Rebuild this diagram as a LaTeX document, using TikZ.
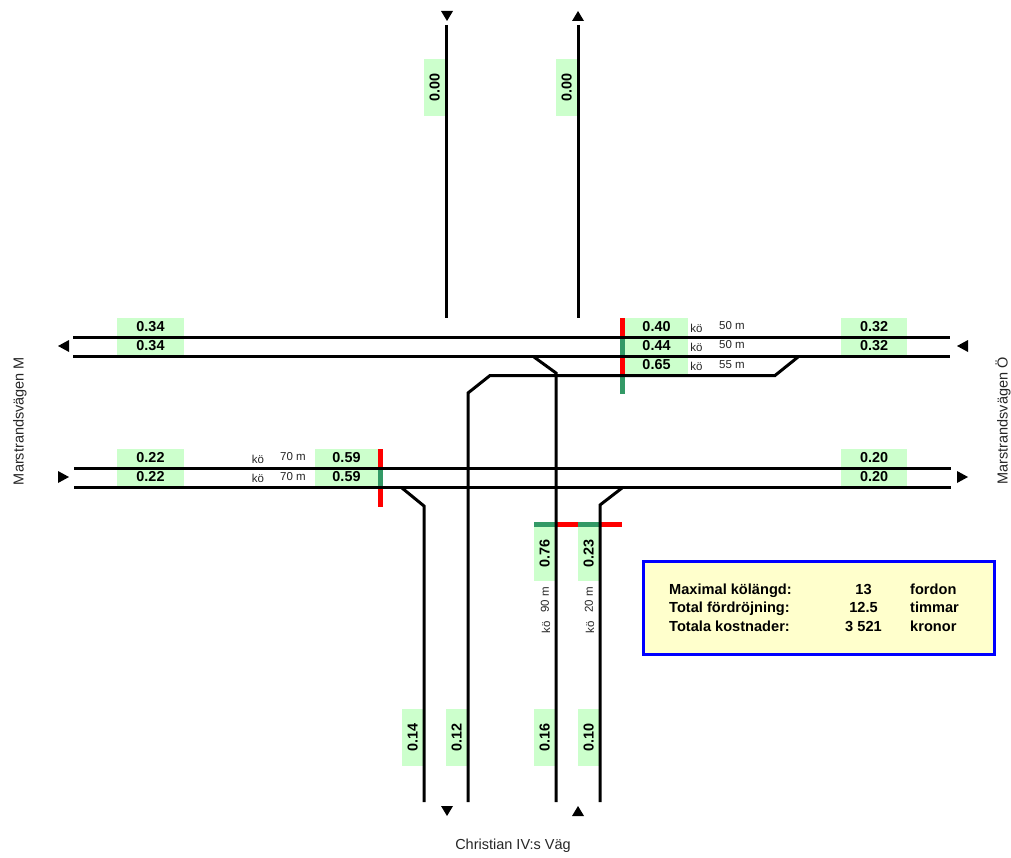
\documentclass[tikz,border=0pt]{standalone}
\usepackage{fontspec}
\setmainfont{Liberation Sans}
\definecolor{lblgreen}{HTML}{CCFFCC}
\definecolor{sigred}{HTML}{FF0000}
\definecolor{siggreen}{HTML}{339966}
\definecolor{boxyellow}{HTML}{FFFFCC}
\definecolor{boxblue}{HTML}{0000FF}
\tikzset{
  road/.style={draw=black,line width=3pt},
  hval/.style={fill=lblgreen,inner sep=0pt,font=\fontsize{14.4}{14}\selectfont\bfseries,text height=7pt,text depth=0pt},
  vval/.style={fill=lblgreen,inner sep=0pt,rotate=90,font=\fontsize{14.4}{14}\selectfont\bfseries,text height=10pt,text depth=0pt},
  small/.style={inner sep=0pt,font=\fontsize{11.5}{12}\selectfont,text=black!85},
  place/.style={inner sep=0pt,font=\fontsize{14.5}{15}\selectfont,text=black!85},
  info/.style={inner sep=0pt,font=\fontsize{14.6}{15}\selectfont\bfseries},
  tri/.style={fill=black,draw=none},
  sigr/.style={fill=sigred,draw=none},
  sigg/.style={fill=siggreen,draw=none},
}
\newcommand{\hlabel}[6]{\node[hval,minimum width=#4pt,minimum height=#5pt] (#1) at (#2,#3) {#6};}
\newcommand{\vlabel}[4]{\node[vval,minimum width=57pt,minimum height=21pt] (#1) at (#2,#3) {#4};}
\begin{document}
\begin{tikzpicture}[x=1pt,y=-1pt]
\useasboundingbox (0,0) rectangle (1011,858);
% horizontal value labels
\hlabel{wa}{150.5}{327.5}{67}{19}{0.34}
\hlabel{wb}{150.5}{347}{67}{18.5}{0.34}
\hlabel{wc}{150.5}{458.5}{67}{19}{0.22}
\hlabel{wd}{150.5}{478}{67}{18.5}{0.22}
\hlabel{ea}{874}{327.5}{66}{19}{0.32}
\hlabel{eb}{874}{347}{66}{18.5}{0.32}
\hlabel{ec}{874}{458.5}{66}{19}{0.20}
\hlabel{ed}{874}{478}{66}{18.5}{0.20}
\hlabel{sa}{656.5}{327.5}{63}{19}{0.40}
\hlabel{sb}{656.5}{347}{63}{18.5}{0.44}
\hlabel{sc}{656.5}{366}{63}{19}{0.65}
\hlabel{ma}{346.5}{458.5}{63}{19}{0.59}
\hlabel{mb}{346.5}{478}{63}{18.5}{0.59}
% vertical value labels
\vlabel{na}{434.5}{87.5}{0.00}
\vlabel{nb}{566.5}{87.5}{0.00}
\vlabel{da}{412.5}{737.5}{0.14}
\vlabel{db}{456.5}{737.5}{0.12}
\vlabel{dc}{544.5}{737.5}{0.16}
\vlabel{dd}{588.5}{737.5}{0.10}
\node[vval,minimum width=54pt,minimum height=21pt] (qa) at (544.5,553.5) {0.76};
\node[vval,minimum width=54pt,minimum height=21pt] (qb) at (588.5,553.5) {0.23};
% signal bars
\fill[sigr] (620,318) rectangle (625,337);
\fill[sigg] (620,337) rectangle (625,356);
\fill[sigr] (620,356) rectangle (625,375);
\fill[sigg] (620,375) rectangle (625,394);
\fill[sigr] (378,449) rectangle (383,468);
\fill[sigg] (378,468) rectangle (383,487);
\fill[sigr] (378,487) rectangle (383,507);
\fill[sigg] (534,522) rectangle (556,527);
\fill[sigr] (556,522) rectangle (578,527);
\fill[sigg] (578,522) rectangle (600,527);
\fill[sigr] (600,522) rectangle (622,527);
% road end points
\coordinate (h1w) at (73,337.5);   \coordinate (h1e) at (950,337.5);
\coordinate (h2w) at (73,356.5);   \coordinate (h2e) at (950,356.5);
\coordinate (h3w) at (74,468.5);   \coordinate (h3e) at (951,468.5);
\coordinate (h4w) at (74,487.5);   \coordinate (h4e) at (951,487.5);
\coordinate (n1t) at (446,25);     \coordinate (n1b) at (446,318);
\coordinate (n2t) at (578,25);     \coordinate (n2b) at (578,318);
\coordinate (a1) at (534,357);     \coordinate (a2) at (556,373);  \coordinate (a3) at (556,802);
\coordinate (b1) at (798,357);     \coordinate (b2) at (775,375.5); \coordinate (b3) at (490,375.5);
\coordinate (b4) at (468,393);     \coordinate (b5) at (468,802);
\coordinate (c1) at (402,488);     \coordinate (c2) at (424,506);  \coordinate (c3) at (424,802);
\coordinate (d1) at (622,488);     \coordinate (d2) at (600,505);  \coordinate (d3) at (600,802);
% roads
\draw[road] (h1w) -- (h1e);
\draw[road] (h2w) -- (h2e);
\draw[road] (h3w) -- (h3e);
\draw[road] (h4w) -- (h4e);
\draw[road] (n1t) -- (n1b);
\draw[road] (n2t) -- (n2b);
\draw[road] (a1) -- (a2) -- (a3);
\draw[road] (b1) -- (b2) -- (b3) -- (b4) -- (b5);
\draw[road] (c1) -- (c2) -- (c3);
\draw[road] (d1) -- (d2) -- (d3);
% direction triangles
\fill[tri] (441,11) -- (453,11) -- (447,21) -- cycle;
\fill[tri] (572,21) -- (584,21) -- (578,11) -- cycle;
\fill[tri] (441,806) -- (453,806) -- (447,816) -- cycle;
\fill[tri] (572,816) -- (584,816) -- (578,806) -- cycle;
\fill[tri] (58,346) -- (69,340) -- (69,352) -- cycle;
\fill[tri] (69,477) -- (58,471) -- (58,483) -- cycle;
\fill[tri] (957,346) -- (968,340) -- (968,352) -- cycle;
\fill[tri] (968,477) -- (957,471) -- (957,483) -- cycle;
% queue texts
\node[small] (k1) at (696.5,328) {kö};  \node[small] (m1) at (732,326) {50 m};
\node[small] (k2) at (696.5,347) {kö};  \node[small] (m2) at (732,345) {50 m};
\node[small] (k3) at (696.5,366) {kö};  \node[small] (m3) at (732,365) {55 m};
\node[small] (k4) at (258,459) {kö};  \node[small] (m4) at (293,457) {70 m};
\node[small] (k5) at (258,478) {kö};  \node[small] (m5) at (293,477) {70 m};
\node[small,rotate=90] (k6) at (546,627) {kö};  \node[small,rotate=90] (m6) at (545,600) {90 m};
\node[small,rotate=90] (k7) at (590,627) {kö};  \node[small,rotate=90] (m7) at (589,600) {20 m};
% place names
\node[place,rotate=90,anchor=base] (pw) at (23.5,421) {Marstrandsvägen M};
\node[place,rotate=90,anchor=base] (pe) at (1007.5,421) {Marstrandsvägen Ö};
\node[place] (ps) at (513,846) {Christian IV:s Väg};
% summary box
\node[draw=boxblue,line width=3pt,fill=boxyellow,minimum width=351pt,minimum height=93pt,inner sep=0pt] (box) at (819,608) {};
\node[info,anchor=base west] (t1) at (669,594) {Maximal kölängd:};
\node[info,anchor=base west] (t2) at (669,612) {Total fördröjning:};
\node[info,anchor=base west] (t3) at (669,631) {Totala kostnader:};
\node[info,anchor=base] (v1) at (863.5,594) {13};
\node[info,anchor=base] (v2) at (863.5,612) {12.5};
\node[info,anchor=base] (v3) at (863.5,631) {3 521};
\node[info,anchor=base west] (u1) at (910,594) {fordon};
\node[info,anchor=base west] (u2) at (910,612) {timmar};
\node[info,anchor=base west] (u3) at (910,631) {kronor};
\end{tikzpicture}
\end{document}
